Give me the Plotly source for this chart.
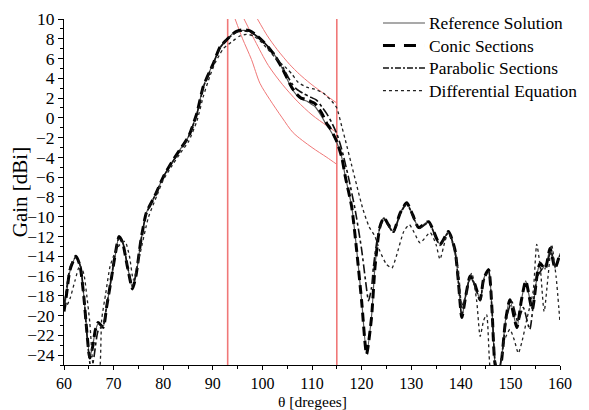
import plotly.graph_objects as go

### Gain patterns
ref_theta = [60.0, 60.5, 61.2, 62.4, 63.2, 64.0, 64.6, 65.2, 65.8, 66.3, 66.9, 67.9, 68.6, 69.5, 70.3,
             71.1, 71.8, 72.8, 73.8, 74.5, 75.5, 76.6, 78.3, 80.0, 81.7, 83.4, 85.1, 86.8, 88.1, 90.1,
             91.5, 92.8, 94.0, 95.0, 96.2, 97.5, 98.8, 100.2, 102.2, 103.9, 104.9, 105.9, 106.9, 107.8,
             108.9, 110.0, 110.6, 112.0, 113.0, 113.6, 115.0, 116.0, 116.7, 118.0, 119.0, 120.0, 121.0,
             122.0, 122.7, 123.7, 124.5, 125.4, 126.4, 127.8, 129.1, 130.3, 131.5, 133.5, 135.8, 137.5,
             138.8, 139.5, 140.2, 141.0, 141.9, 142.8, 143.9, 144.6, 145.6, 146.3, 146.9, 147.6, 148.2,
             149.0, 149.9, 151.3, 152.2, 153.1, 154.4, 155.5, 156.0, 157.0, 158.0, 159.0, 160.0]
ref_gain = [-19.5, -17.8, -15.5, -14.0, -14.8, -18.0, -21.5, -24.2, -23.0, -21.6, -20.8, -21.1, -19.0, -16.5, -14.0,
            -12.0, -12.5, -15.0, -17.2, -16.0, -12.5, -9.6, -7.9, -6.0, -4.56, -3.2, -1.9, 0.5, 3.2, 5.55,
            7.2, 7.9, 8.5, 8.75, 8.85, 8.75, 8.3, 7.7, 6.55, 5.1, 4.0, 3.0, 2.3, 1.9,
            1.7, 1.35, 1.15, 0.1, -0.8, -1.2, -2.5, -4.0, -5.9, -8.95, -13.3, -18.4, -23.8,
            -20.1, -15.0, -11.0, -10.1, -10.8, -11.5, -9.6, -8.6, -9.8, -11.1, -10.5, -12.8, -11.5,
            -13.3, -16.5, -20.2, -18.0, -16.0, -16.8, -18.4, -16.3, -15.35, -19.5, -24.8, -25.8, -24.5,
            -20.5, -18.4, -21.2, -18.5, -16.5, -19.4, -15.5, -14.7, -15.3, -13.2, -15.2, -13.7]

conic_gain = [-19.6, -17.9, -15.4, -14.0, -14.9, -18.1, -21.6, -24.3, -23.1, -21.5, -20.7, -21.2, -19.1, -16.4, -13.9,
              -12.0, -12.6, -15.1, -17.3, -16.0, -12.4, -9.6, -7.9, -6.0, -4.5, -3.2, -1.9, 0.5, 3.2, 5.5,
              7.2, 7.9, 8.5, 8.8, 8.9, 8.8, 8.35, 7.7, 6.5, 5.1, 4.1, 3.1, 2.4, 2.0,
              1.85, 1.6, 1.45, 0.45, -0.6, -1.0, -2.4, -4.0, -5.9, -9.0, -13.4, -18.5, -23.9,
              -20.2, -15.1, -11.0, -10.1, -10.8, -11.5, -9.6, -8.6, -9.8, -11.1, -10.5, -12.8, -11.5,
              -13.3, -16.5, -20.2, -18.0, -16.0, -16.8, -18.4, -16.3, -15.35, -19.5, -24.9, -25.9, -24.6,
              -20.6, -18.4, -21.2, -18.5, -16.5, -19.4, -15.5, -14.7, -15.3, -13.2, -15.2, -13.7]

par_theta = [60.0, 60.6, 61.3, 62.4, 63.3, 64.0, 64.8, 65.5, 66.1, 66.9, 67.9, 68.6, 69.5, 70.3, 71.1,
             71.9, 72.8, 73.8, 74.5, 75.5, 76.6, 78.3, 80.0, 81.7, 83.4, 85.1, 86.8, 88.1, 90.1, 91.5,
             92.8, 94.0, 95.0, 96.2, 97.5, 98.8, 100.2, 102.2, 103.9, 104.9, 105.9, 106.9, 108.3, 109.5,
             110.9, 112.0, 113.0, 114.0, 115.0, 116.0, 117.3, 118.7, 120.0, 120.8, 121.4, 122.0, 122.4,
             123.4, 124.5, 125.4, 126.4, 127.8, 129.1, 130.3, 131.5, 133.5, 135.8, 137.5, 138.8, 139.5,
             140.2, 141.0, 141.9, 142.8, 143.9, 144.6, 145.6, 146.3, 146.9, 147.6, 148.4, 149.3, 150.3,
             151.5, 152.6, 153.9, 154.8, 155.5, 156.3, 157.3, 158.2, 159.0, 160.0]
par_gain = [-19.0, -17.0, -15.0, -14.1, -15.0, -18.0, -23.0, -25.6, -24.0, -21.5, -21.0, -19.0, -16.3, -13.8, -12.1,
            -12.7, -15.0, -17.0, -15.8, -12.4, -9.7, -7.9, -6.0, -4.6, -3.3, -1.9, 0.4, 3.1, 5.5, 7.1,
            7.9, 8.4, 8.7, 8.8, 8.7, 8.3, 7.7, 6.6, 5.3, 4.4, 3.5, 2.9, 2.45, 2.15,
            1.8, 1.1, 0.4, -0.5, -1.6, -3.2, -5.9, -9.3, -13.3, -16.5, -18.5, -17.2, -15.0,
            -11.6, -10.2, -10.9, -11.6, -9.7, -8.7, -9.9, -11.2, -10.6, -12.9, -11.6, -13.4, -16.6,
            -20.0, -17.9, -16.1, -16.9, -18.5, -16.5, -15.5, -19.5, -24.5, -25.8, -23.5, -20.0, -18.6,
            -20.6, -19.2, -21.4, -18.0, -16.0, -15.35, -14.7, -13.5, -15.0, -13.9]

dif_theta = [60.0, 60.5, 61.2, 62.2, 63.2, 64.0, 64.6, 65.2, 65.9, 66.5, 67.2, 67.6, 68.4, 69.3, 70.3,
             71.3, 72.3, 73.2, 74.0, 75.3, 77.0, 78.7, 80.0, 81.7, 83.4, 85.1, 86.8, 88.1, 89.4, 90.5,
             91.5, 92.1, 94.1, 95.5, 96.8, 98.2, 99.5, 101.0, 102.9, 104.9, 106.0, 107.2, 108.9, 110.5,
             112.3, 114.3, 115.0, 116.0, 116.7, 118.0, 119.0, 120.3, 121.5, 122.7, 123.7, 125.0, 126.1,
             127.0, 128.5, 129.6, 130.6, 131.8, 133.8, 135.0, 135.8, 136.8, 137.5, 138.5, 139.5, 140.2,
             141.0, 142.2, 143.2, 143.9, 144.6, 145.2, 145.9, 146.8, 147.8, 148.8, 149.9, 150.8, 151.6,
             152.4, 153.3, 154.6, 155.3, 156.0, 156.8, 157.6, 158.3, 159.2, 160.0]
dif_gain = [-18.6, -19.0, -18.3, -16.5, -14.9, -15.8, -18.0, -20.7, -25.3, -26.5, -25.5, -20.4, -17.8, -15.0, -13.6,
            -12.8, -12.5, -14.0, -16.4, -13.8, -10.1, -7.9, -6.3, -4.9, -3.6, -2.4, -0.3, 2.2, 4.2, 5.6,
            6.5, 7.0, 7.8, 8.3, 8.45, 8.3, 7.8, 7.0, 5.9, 5.0, 4.4, 3.6, 3.1, 2.9,
            2.5, 1.5, 1.0, -0.86, -2.2, -4.8, -6.8, -9.3, -11.0, -12.0, -13.5, -14.8, -15.2,
            -14.0, -11.5, -10.8, -11.6, -12.65, -11.6, -12.8, -14.3, -12.5, -11.6, -13.0, -15.35, -19.0,
            -18.0, -15.7, -18.5, -22.1, -20.5, -19.9, -25.3, -27.0, -25.5, -22.5, -21.4, -22.5, -23.8,
            -22.5, -20.4, -17.5, -12.8, -15.0, -19.6, -16.0, -12.8, -16.0, -20.7]

# red guide lines
bound_theta = [93.0, 115.0]
red_a_theta = [94.5, 96.0, 97.8, 99.5, 101.5, 104.0, 106.2, 110.0, 113.0, 115.0]
red_a_gain = [10.0, 8.0, 5.9, 3.5, 1.85, 0.0, -1.5, -3.0, -4.0, -4.7]
red_b_theta = [96.3, 98.5, 101.2, 104.0, 107.0, 110.0, 113.0, 115.0]
red_b_gain = [10.0, 7.8, 5.3, 3.4, 1.7, 0.3, -0.8, -1.5]
red_c_theta = [99.0, 101.0, 103.0, 105.5, 107.5, 109.6, 113.6, 115.0]
red_c_gain = [10.0, 8.3, 6.9, 5.4, 4.4, 3.5, 2.0, 1.5]

series_names = ["Reference Solution", "Conic Sections", "Parabolic Sections", "Differential Equation"]

RED = "#f07878"
FONT = "Liberation Serif"
styles = [dict(color="#555555", width=1.2),
          dict(color="black", width=3, dash="9px,5px"),
          dict(color="#111111", width=1.6, dash="dashdot"),
          dict(color="#222222", width=1.3, dash="dot")]
legend_dash = [None, "12px,9px", "6px,2px,2px,2px", "dot"]

fig = go.Figure()
for b in bound_theta:
    fig.add_trace(go.Scatter(x=[b, b], y=[-25, 10], mode="lines", showlegend=False,
                             line=dict(color=RED, width=1.6)))
for tx, gy in [(red_a_theta, red_a_gain), (red_b_theta, red_b_gain), (red_c_theta, red_c_gain)]:
    fig.add_trace(go.Scatter(x=tx, y=gy, mode="lines", showlegend=False,
                             line=dict(color=RED, width=1, shape="spline", smoothing=0.8)))

for name, tx, gy, st in zip(series_names, [ref_theta, ref_theta, par_theta, dif_theta],
                            [ref_gain, conic_gain, par_gain, dif_gain], styles):
    fig.add_trace(go.Scatter(x=tx, y=gy, name=name, mode="lines", showlegend=False,
                             line=dict(shape="spline", smoothing=0.6, **st)))

# legend drawn by hand so the rows sit as tight as in the original
for i, (name, st) in enumerate(zip(series_names, styles)):
    yy = 0.9661 - i * 0.0636
    ln = dict(color=st["color"], width=st["width"])
    if legend_dash[i]:
        ln["dash"] = legend_dash[i]
    fig.add_shape(type="line", xref="paper", yref="paper", x0=0.6431, x1=0.7278, y0=yy, y1=yy, line=ln)
    fig.add_annotation(text=name, xref="paper", yref="paper", x=0.7320, y=yy, xanchor="left",
                       yanchor="middle", showarrow=False, font=dict(family=FONT, size=17.4))

# x title as a text placed right under the tick labels
fig.add_annotation(text="θ [dregees]", xref="paper", yref="paper", x=0.5, y=-0.1313,
                   xanchor="center", yanchor="bottom", showarrow=False, borderpad=0,
                   font=dict(family=FONT, size=15.5))

# page body has an 8px margin, so the figure is drawn 8px smaller than the window
fig.update_layout(
    width=581, height=402,
    margin=dict(l=56, r=29, t=3, b=45),
    plot_bgcolor="white", paper_bgcolor="white",
    font=dict(family=FONT, size=17.5, color="black"),
    showlegend=False,
)
fig.update_xaxes(range=[60, 160], dtick=10, showline=True, linecolor="black", linewidth=1,
                 ticks="outside", ticklen=4, tickcolor="black", showgrid=False, zeroline=False,
                 minor=dict(dtick=5, ticks="outside", ticklen=3, tickcolor="black"),
                 tickfont=dict(size=16), automargin=False)
fig.update_yaxes(range=[-25, 10], dtick=2, tick0=0, showline=True, linecolor="black", linewidth=1,
                 ticks="outside", ticklen=5, tickcolor="black", showgrid=False, zeroline=False,
                 minor=dict(dtick=1, ticks="outside", ticklen=3, tickcolor="black"),
                 domain=[0, 0.9774], automargin=False, title=dict(text="Gain [dBi]", standoff=12))

fig.write_html("out.html")
